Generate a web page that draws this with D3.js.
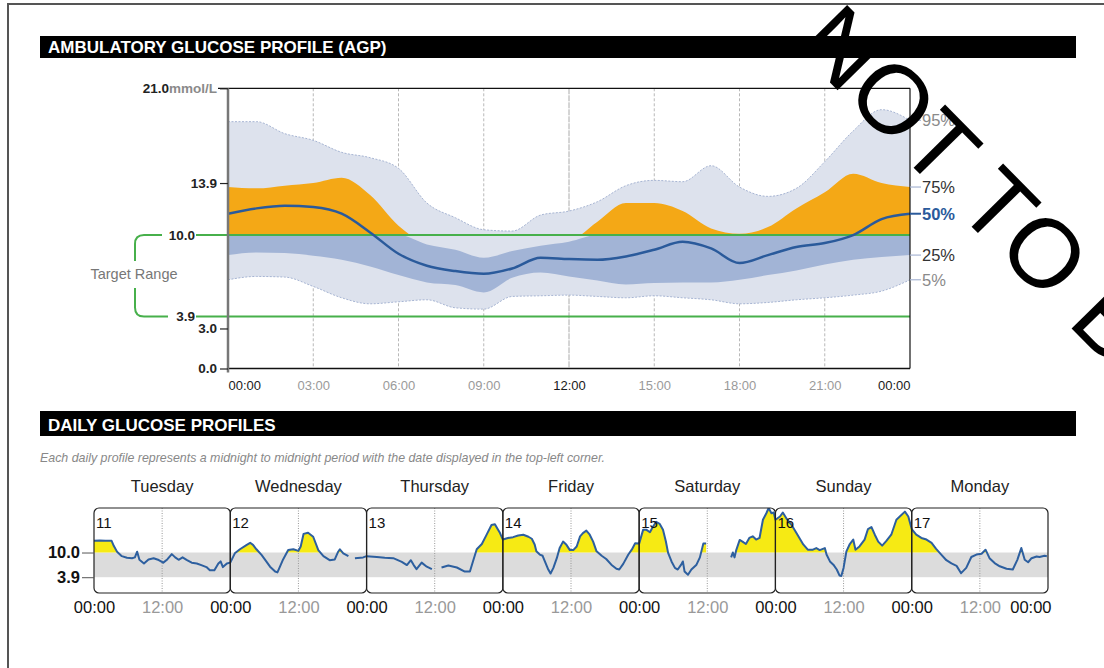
<!DOCTYPE html>
<html>
<head>
<meta charset="utf-8">
<script src="https://cdn.jsdelivr.net/npm/d3@7"></script>
<style>
  html, body { margin: 0; padding: 0; background: #fff; }
  svg { display: block; font-family: "Liberation Sans", Arial, Helvetica, sans-serif; }
</style>
</head>
<body>
<svg id="chart" width="1104" height="668"></svg>
<script>
// ---- Ambulatory glucose profile: percentiles by hour of day (mmol/L) ----
const agpHours = d3.range(0, 25);
const p95 = [18.5, 18.5, 17.6, 17.1, 16.2, 15.8, 15.0, 12.4, 11.3, 10.4, 10.3, 11.5, 11.8, 12.5, 13.7, 14.1, 14.0, 15.2, 13.6, 12.9, 13.5, 15.5, 17.8, 19.4, 18.6];
const p75 = [13.6, 13.5, 13.7, 13.9, 14.3, 13.0, 10.7, 9.3, 8.9, 8.3, 8.8, 9.2, 9.5, 11.0, 12.4, 12.4, 11.8, 10.5, 10.1, 10.6, 12.0, 13.2, 14.6, 13.9, 13.6];
const p50 = [11.6, 12.0, 12.2, 12.1, 11.6, 10.2, 8.6, 7.7, 7.3, 7.1, 7.5, 8.3, 8.2, 8.15, 8.4, 8.9, 9.5, 9.0, 7.9, 8.5, 9.1, 9.4, 10.0, 11.2, 11.6];
const p25 = [8.5, 8.7, 8.65, 8.45, 8.15, 7.65, 7.0, 6.45, 6.25, 5.7, 6.8, 7.2, 6.9, 6.6, 6.3, 6.4, 6.45, 6.45, 6.65, 7.0, 7.35, 7.8, 8.15, 8.35, 8.5];
const p05 = [6.65, 6.9, 6.85, 6.15, 5.3, 4.85, 5.0, 5.15, 4.55, 4.45, 5.4, 5.45, 5.5, 5.4, 5.3, 5.45, 5.3, 5.15, 4.85, 4.95, 5.15, 5.3, 5.5, 5.8, 6.65];

const targetLow = 3.9;
const targetHigh = 10.0;
const agpYTicks = [0, 3.0, 13.9, 21.0];
const agpXTicks = d3.range(0, 25, 3);

// ---- Daily glucose profiles: [hour, mmol/L], null marks a sensor gap ----
const weekdays = ["Tuesday", "Wednesday", "Thursday", "Friday", "Saturday", "Sunday", "Monday"];
const dates = ["11", "12", "13", "14", "15", "16", "17"];

const day11 = [[0,12.9],[1,13.0],[2,12.9],[3.1,12.9],[3.5,11.6],[4.1,10.1],[4.9,9.1],[5.8,8.7],[6.7,8.6],[7.2,8.8],[7.6,10.2],[8.0,8.2],[8.8,7.3],[9.6,8.3],[10.5,8.6],[11.4,8.15],[12.2,7.5],[12.9,8.3],[13.7,9.6],[14.3,8.8],[14.9,8.2],[15.6,8.8],[16.3,8.2],[17.2,7.5],[18.1,7.3],[18.9,6.9],[19.8,6.4],[20.4,5.6],[21.2,5.6],[21.9,7.3],[22.3,7.8],[22.7,6.4],[23.4,7.3],[24,7.5]];
const day12 = [[0,7.5],[0.8,9.8],[1.7,10.8],[2.9,11.9],[3.5,12.4],[4.0,11.9],[4.6,10.8],[5.5,9.4],[6.4,7.7],[7.0,6.5],[7.9,5.3],[8.3,5.1],[8.75,6.5],[9.3,8.3],[10.2,10.6],[11.1,10.8],[12.0,10.4],[12.4,11.5],[12.9,14.6],[13.7,14.9],[14.6,13.9],[15.5,10.6],[16.4,9.1],[17.5,8.1],[18.4,8.3],[19.0,10.2],[19.3,10.8],[19.9,9.8],[20.8,9.1],[21.4,null],[21.95,8.6],[23.4,8.8],[24,9.1]];
const day13 = [[0,9.1],[1.8,8.9],[3.2,8.7],[4.7,8.6],[6.2,7.7],[7.1,6.9],[7.8,8.1],[8.3,6.9],[8.8,5.9],[9.7,7.5],[10.6,6.5],[11.5,5.9],[12.3,null],[13.2,6.3],[14.4,6.8],[15.9,6.3],[17.3,5.3],[18.2,5.3],[18.8,8.1],[19.4,10.8],[20.3,12.1],[21.1,14.3],[22.0,16.8],[22.6,17.0],[23.0,16.0],[23.5,14.8],[24,13.2]];
const day14 = [[0,13.2],[0.9,13.6],[1.8,13.8],[2.7,14.2],[3.6,14.4],[4.5,13.9],[5.1,13.4],[5.6,12.0],[5.9,10.3],[6.5,9.5],[7.0,9.2],[7.4,7.8],[8.0,5.8],[8.4,4.8],[8.9,6.2],[9.5,8.6],[10.0,11.1],[10.6,12.7],[11.2,11.9],[11.8,10.6],[12.4,10.6],[13.0,11.5],[13.6,14.0],[14.1,14.8],[14.7,15.4],[15.3,14.4],[15.9,12.7],[16.5,10.3],[17.4,9.2],[18.2,8.4],[19.1,7.0],[20.0,6.0],[20.5,5.8],[21.2,7.2],[22.1,9.5],[22.7,10.7],[23.3,12.3],[24,12.2]];
const day15 = [[0,12.2],[0.7,15.6],[1.3,15.6],[1.9,15.0],[2.4,16.3],[3.0,17.6],[3.6,17.1],[4.2,15.6],[4.7,12.8],[5.1,9.9],[5.7,7.8],[6.3,6.2],[6.8,5.8],[7.4,7.0],[7.7,7.8],[8.0,5.3],[8.6,4.5],[9.2,5.8],[10.1,7.0],[10.7,8.8],[11.3,12.2],[11.8,12.2],[14.0,null],[16.2,8.8],[16.5,10.0],[16.8,8.8],[17.1,10.6],[17.7,13.1],[18.2,12.7],[18.8,12.1],[19.4,13.6],[20.0,14.0],[20.6,13.2],[21.2,13.6],[21.8,18.1],[22.4,19.7],[22.8,21.0],[23.3,19.7],[23.7,19.9],[24,18.1]];
const day16 = [[0,18.1],[0.8,18.9],[1.3,19.9],[2.0,18.3],[2.8,16.9],[3.7,14.8],[4.9,12.0],[5.7,10.7],[6.6,10.7],[7.2,11.1],[7.8,10.6],[8.7,11.1],[9.0,9.5],[9.6,7.8],[10.2,7.0],[10.8,5.8],[11.3,4.3],[11.6,4.2],[12.0,6.2],[12.5,10.3],[13.1,12.1],[13.7,13.2],[14.1,10.7],[14.8,11.5],[15.7,13.2],[16.3,15.8],[16.9,16.3],[17.5,14.4],[18.1,12.7],[18.8,11.7],[19.5,12.8],[20.4,14.4],[21.3,18.1],[21.9,18.9],[22.8,20.1],[23.4,18.9],[24,15.8]];
const day17 = [[0,15.8],[0.8,14.4],[1.7,13.6],[2.6,13.2],[3.5,12.4],[4.3,10.9],[5.2,9.5],[6.1,8.1],[7.0,7.3],[7.9,6.7],[8.7,4.9],[9.6,6.2],[10.5,8.9],[11.4,9.5],[12.3,9.7],[13.0,10.7],[13.7,8.6],[14.6,7.4],[15.5,6.6],[16.7,6.0],[17.8,5.8],[18.6,8.2],[19.3,11.1],[19.9,8.2],[20.5,7.6],[21.1,8.6],[22.0,9.0],[22.5,8.9],[23.4,9.2],[23.8,9.1]];
const dailyReadings = [day11, day12, day13, day14, day15, day16, day17];

// ---- colours ----
const C = {
  band95: "#dde2ed", band95Edge: "#a7b5d3", band50: "#a2b4d6", high: "#f4a816",
  median: "#2a5a9b", target: "#47b04b", grid: "#b8b8b8", dayHigh: "#f6ea14",
  dayLine: "#2d5f9f", dayBand: "#dcdcdc"
};

const svg = d3.select("#chart");

// page frame
svg.append("path").attr("d", "M8,668 V4 H1104").attr("fill", "none")
  .attr("stroke", "#555").attr("stroke-width", 2);

// section header bars
function header(y, h, label, size) {
  svg.append("rect").attr("x", 40).attr("y", y).attr("width", 1036).attr("height", h).attr("fill", "#000");
  svg.append("text").attr("x", 48).attr("y", y + h - 5).attr("fill", "#fff")
    .attr("font-size", size).attr("font-weight", "bold").text(label);
}
header(36, 22, "AMBULATORY GLUCOSE PROFILE (AGP)", 17);
header(411, 25, "DAILY GLUCOSE PROFILES", 17);

// ================= AGP chart =================
const x = d3.scaleLinear().domain([0, 24]).range([228, 910]);
const y = d3.scaleLinear().domain([0, 21]).range([368.5, 88.3]);
const agp = svg.append("g");

// hour gridlines
agp.selectAll("line.grid").data(agpXTicks.slice(1, -1)).join("line")
  .attr("x1", d => x(d)).attr("x2", d => x(d)).attr("y1", y(21)).attr("y2", y(0))
  .attr("stroke", d => d === 12 ? "#aaa" : C.grid).attr("stroke-width", 1)
  .attr("stroke-dasharray", d => d === 12 ? "6,1" : "3,2");

const rows = agpHours.map((h, i) => ({ h, p95: p95[i], p75: p75[i], p50: p50[i], p25: p25[i], p05: p05[i] }));
const curve = d3.curveMonotoneX;

agp.append("path").datum(rows).attr("fill", C.band95)
  .attr("d", d3.area().curve(curve).x(d => x(d.h)).y0(d => y(d.p05)).y1(d => y(d.p95)));
["p95", "p05"].forEach(k => {
  agp.append("path").datum(rows).attr("fill", "none").attr("stroke", C.band95Edge)
    .attr("stroke-width", 1).attr("stroke-dasharray", "2,1.5")
    .attr("d", d3.line().curve(curve).x(d => x(d.h)).y(d => y(d[k])));
});
agp.append("path").datum(rows).attr("fill", C.band50)
  .attr("d", d3.area().curve(curve).x(d => x(d.h)).y0(d => y(d.p25)).y1(d => y(Math.min(d.p75, targetHigh))));

// part of the interquartile band above the target range
const clipId = "above-target";
svg.append("clipPath").attr("id", clipId).append("rect")
  .attr("x", x(0)).attr("y", y(21)).attr("width", x(24) - x(0)).attr("height", y(targetHigh) - y(21));
agp.append("path").datum(rows).attr("fill", C.high).attr("clip-path", `url(#${clipId})`)
  .attr("d", d3.area().curve(curve).x(d => x(d.h)).y0(y(targetHigh)).y1(d => y(d.p75)));

// target range lines
[targetHigh, targetLow].forEach(v => {
  agp.append("line").attr("x1", 196).attr("x2", x(24)).attr("y1", y(v)).attr("y2", y(v))
    .attr("stroke", C.target).attr("stroke-width", 2);
});

// median
agp.append("path").datum(rows).attr("fill", "none").attr("stroke", C.median).attr("stroke-width", 2.5)
  .attr("d", d3.line().curve(curve).x(d => x(d.h)).y(d => y(d.p50)));

// plot frame
agp.append("line").attr("x1", 218).attr("x2", x(24)).attr("y1", y(21)).attr("y2", y(21)).attr("stroke", "#111").attr("stroke-width", 1.2);
agp.append("line").attr("x1", x(24)).attr("x2", x(24)).attr("y1", y(21)).attr("y2", y(0)).attr("stroke", "#111").attr("stroke-width", 1.2);
agp.append("line").attr("x1", x(0)).attr("x2", x(24)).attr("y1", y(0)).attr("y2", y(0)).attr("stroke", "#111").attr("stroke-width", 1.5);

// y axis
const yAxis = agp.append("g").attr("transform", `translate(${x(0)},0)`)
  .call(d3.axisLeft(y).tickValues(agpYTicks).tickSize(8).tickPadding(3).tickFormat(d3.format(".1f")));
yAxis.select(".domain").attr("stroke", "#777").attr("stroke-width", 2.5).attr("d", `M0,${y(21)}V${y(0) + 4}`);
yAxis.selectAll(".tick line").attr("stroke", "#222").attr("stroke-width", 1.2);
yAxis.selectAll(".tick text").attr("font-size", 13.5).attr("font-weight", "bold").attr("fill", "#222")
  .attr("font-family", "'Liberation Sans', Arial, sans-serif");
yAxis.selectAll(".tick").filter(d => d === 21).select("text").text(null)
  .call(t => {
    t.append("tspan").text("21.0");
    t.append("tspan").attr("fill", "#8a8a8a").text("mmol/L");
  });

// target labels
[targetHigh, targetLow].forEach(v => {
  agp.append("text").attr("x", 195).attr("y", y(v)).attr("dy", "0.35em").attr("text-anchor", "end")
    .attr("font-size", 13.5).attr("font-weight", "bold").attr("fill", "#222").text(v.toFixed(1));
});

// target range bracket
const bx = 135, r = 9;
agp.append("path").attr("fill", "none").attr("stroke", C.target).attr("stroke-width", 2)
  .attr("d", `M162,${y(targetHigh)} H${bx + r} Q${bx},${y(targetHigh)} ${bx},${y(targetHigh) + r} V261
              M${bx},288 V${y(targetLow) - r} Q${bx},${y(targetLow)} ${bx + r},${y(targetLow)} H168`);
agp.append("text").attr("x", 134).attr("y", 279).attr("text-anchor", "middle")
  .attr("font-size", 14.5).attr("fill", "#777").text("Target Range");

// x axis
const xAxis = agp.append("g").attr("transform", `translate(0,${y(0)})`)
  .call(d3.axisBottom(x).tickValues(agpXTicks).tickSize(0).tickPadding(12)
    .tickFormat(h => String(h % 24).padStart(2, "0") + ":00"));
xAxis.select(".domain").remove();
xAxis.selectAll(".tick text").attr("font-size", 13).attr("font-family", "'Liberation Sans', Arial, sans-serif")
  .attr("fill", d => d % 12 === 0 ? "#1a1a1a" : "#9a9a9a")
  .attr("text-anchor", d => d === 0 ? "start" : d === 24 ? "end" : "middle");

// percentile labels at the right edge
const pctLabels = [
  { key: "p95", text: "95%", color: "#8a8a8a", weight: "normal", line: C.band95Edge },
  { key: "p75", text: "75%", color: "#333", weight: "normal", line: C.band95Edge },
  { key: "p50", text: "50%", color: C.median, weight: "bold", line: C.median },
  { key: "p25", text: "25%", color: "#333", weight: "normal", line: C.band95Edge },
  { key: "p05", text: "5%", color: "#8a8a8a", weight: "normal", line: C.band95Edge }
];
const last = rows[rows.length - 1];
pctLabels.forEach(p => {
  const yy = y(last[p.key]);
  agp.append("line").attr("x1", x(24)).attr("x2", x(24) + 11).attr("y1", yy).attr("y2", yy)
    .attr("stroke", p.line).attr("stroke-width", p.key === "p50" ? 2 : 1.2);
  agp.append("text").attr("x", 922).attr("y", yy).attr("dy", "0.36em")
    .attr("font-size", 16.5).attr("font-weight", p.weight).attr("fill", p.color).text(p.text);
});

// ================= Daily profiles =================
svg.append("text").attr("x", 40).attr("y", 462).attr("font-size", 12.4).attr("font-style", "italic")
  .attr("fill", "#888")
  .text("Each daily profile represents a midnight to midnight period with the date displayed in the top-left corner.");

const xd = d3.scaleLinear().domain([0, 7 * 24]).range([94, 1048]);
const yd = d3.scaleLinear().domain([0, 21]).range([593, 508]);
const daily = svg.append("g");

daily.append("rect").attr("x", xd(0)).attr("y", yd(targetHigh)).attr("width", xd(168) - xd(0))
  .attr("height", yd(targetLow) - yd(targetHigh)).attr("fill", C.dayBand);

// noon dotted lines
daily.selectAll("line.noon").data(d3.range(7)).join("line")
  .attr("x1", d => xd(d * 24 + 12)).attr("x2", d => xd(d * 24 + 12)).attr("y1", yd(21)).attr("y2", yd(0))
  .attr("stroke", "#999").attr("stroke-width", 1).attr("stroke-dasharray", "1,1.5");

// one continuous series across the week
const series = [];
dailyReadings.forEach((day, d) => day.forEach(([h, v]) => series.push([d * 24 + h, v])));

function addCrossings(pts, thr) {
  const out = [];
  pts.forEach((p, i) => {
    const q = pts[i - 1];
    if (q && q[1] != null && p[1] != null && (q[1] - thr) * (p[1] - thr) < 0) {
      const t = (thr - q[1]) / (p[1] - q[1]);
      out.push([q[0] + t * (p[0] - q[0]), thr]);
    }
    out.push(p);
  });
  return out;
}
const highPts = addCrossings(series, targetHigh);

svg.append("clipPath").attr("id", "week-clip").append("rect")
  .attr("x", xd(0)).attr("y", yd(21)).attr("width", xd(168) - xd(0)).attr("height", yd(0) - yd(21));

daily.append("path").datum(highPts).attr("fill", C.dayHigh).attr("clip-path", "url(#week-clip)")
  .attr("d", d3.area().defined(d => d[1] != null).x(d => xd(d[0]))
    .y0(yd(targetHigh)).y1(d => yd(Math.max(d[1], targetHigh))));
daily.append("path").datum(series).attr("fill", "none").attr("stroke", C.dayLine).attr("stroke-width", 2)
  .attr("stroke-linejoin", "round").attr("clip-path", "url(#week-clip)")
  .attr("d", d3.line().defined(d => d[1] != null).x(d => xd(d[0])).y(d => yd(d[1])));

// day panels
daily.selectAll("rect.panel").data(d3.range(7)).join("rect")
  .attr("x", d => xd(d * 24)).attr("y", yd(21)).attr("width", xd(24) - xd(0)).attr("height", yd(0) - yd(21))
  .attr("rx", 5).attr("fill", "none").attr("stroke", "#222").attr("stroke-width", 1.2);
daily.selectAll("text.date").data(dates).join("text")
  .attr("x", (d, i) => xd(i * 24) + 2).attr("y", 528).attr("font-size", 15).attr("fill", "#111").text(d => d);
daily.selectAll("text.weekday").data(weekdays).join("text")
  .attr("x", (d, i) => xd(i * 24 + 12)).attr("y", 492).attr("text-anchor", "middle")
  .attr("font-size", 16.5).attr("fill", "#222").text(d => d);

// daily y labels
const dyAxis = daily.append("g").attr("transform", `translate(${xd(0)},0)`)
  .call(d3.axisLeft(yd).tickValues([targetLow, targetHigh]).tickSize(12).tickPadding(2).tickFormat(d3.format(".1f")));
dyAxis.select(".domain").remove();
dyAxis.selectAll(".tick line").attr("stroke", "#555");
dyAxis.selectAll(".tick text").attr("font-size", 16.5).attr("font-weight", "bold").attr("fill", "#111")
  .attr("font-family", "'Liberation Sans', Arial, sans-serif");

// daily x labels
const dxAxis = daily.append("g").attr("transform", `translate(0,${yd(0)})`)
  .call(d3.axisBottom(xd).tickValues(d3.range(0, 169, 12)).tickSize(0).tickPadding(8)
    .tickFormat(h => (h % 24 === 0 ? "00" : "12") + ":00"));
dxAxis.select(".domain").remove();
dxAxis.selectAll(".tick text").attr("font-size", 16.5).attr("font-family", "'Liberation Sans', Arial, sans-serif")
  .attr("fill", d => d % 24 === 0 ? "#111" : "#999")
  .attr("text-anchor", d => d === 168 ? "end" : "middle")
  .attr("dx", d => d === 168 ? 3 : 0);

// watermark
svg.append("text").attr("transform", "translate(794,46) rotate(45.5)")
  .attr("font-size", 97).attr("fill", "#000")
  .text("NOT TO BE");
</script>
</body>
</html>
